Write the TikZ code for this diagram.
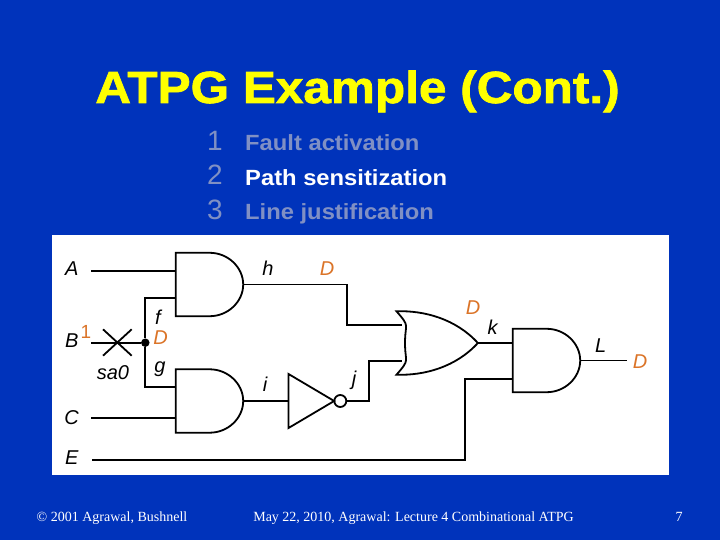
\documentclass[tikz,border=0pt]{standalone}
\usepackage{fontspec}
\setmainfont{Liberation Sans}
\newfontfamily\footfont{Liberation Serif}
\newfontfamily\headfont[BoldFeatures={FakeBold=1.6,FakeStretch=1.1}]{Liberation Sans}
\newfontfamily\stepfont[BoldFeatures={FakeStretch=1.08}]{Liberation Sans}
\definecolor{slide}{HTML}{0033BB}
\definecolor{heading}{HTML}{FFFF00}
\definecolor{dimmed}{HTML}{8090C4}
\definecolor{logicval}{HTML}{DB7428}
\tikzset{heading/.style={text=heading,font=\headfont\fontsize{45}{45}\selectfont\bfseries,inner sep=0pt,anchor=base}}
\tikzset{stepnum/.style={text=dimmed,font=\fontsize{28}{28}\selectfont,inner sep=0pt,anchor=base west}}
\tikzset{steptext/.style={text=dimmed,font=\stepfont\fontsize{22}{22}\selectfont\bfseries,inner sep=0pt,anchor=base west}}
\tikzset{footer/.style={text=white,font=\footfont\fontsize{14}{14}\selectfont,inner sep=0pt,anchor=base}}
\tikzset{sig/.style={black,font=\fontsize{20}{20}\selectfont\itshape,inner sep=0pt,anchor=base}}
\tikzset{val/.style={text=logicval,font=\fontsize{20}{20}\selectfont\itshape,inner sep=0pt,anchor=base}}
\tikzset{wire/.style={black,line width=1.8pt}}
\tikzset{gatebox/.style={rectangle,inner sep=0pt,minimum width=67pt,minimum height=63pt}}
\newcommand{\andshape}[1]{\draw[wire] (#1.north west) -- ([xshift=34pt]#1.north west) .. controls ([xshift=52pt]#1.north west) and ([yshift=17.3pt]#1.east) .. (#1.east) .. controls ([yshift=-17.3pt]#1.east) and ([xshift=52pt]#1.south west) .. ([xshift=34pt]#1.south west) -- (#1.south west) -- cycle;}
\begin{document}
\begin{tikzpicture}[x=1pt,y=-1pt]
                \useasboundingbox (0,0) rectangle (720,540);
                \fill[slide] (0,0) rectangle (720,540);
                \node[rectangle,fill=white,inner sep=0pt,minimum width=617pt,minimum height=240pt] (panel) at (360.5,355) {};

                \node[heading] (title) at (357.5,103) {ATPG Example (Cont.)};
                \node[stepnum] (n1) at (207,151) {1};
                \node[stepnum] (n2) at (207,185) {2};
                \node[stepnum] (n3) at (207,219) {3};
                \node[steptext] (s1) at (245,151) {Fault activation};
                \node[steptext,text=white] (s2) at (245,185.5) {Path sensitization};
                \node[steptext] (s3) at (245,220) {Line justification};

                \node[gatebox] (andh) at (209.5,284.5) {};
                \node[gatebox] (andi) at (209.5,401) {};
                \node[gatebox] (andl) at (546.5,360.5) {};
                \node[gatebox,minimum width=81pt] (orgate) at (437.2,343) {};
                \node[rectangle,inner sep=0pt,minimum width=45.3pt,minimum height=53.7pt] (inv) at (311.3,401) {};
                \node[circle,draw=black,line width=1.8pt,fill=white,inner sep=0pt,minimum size=12pt] (bubble) at (340.3,401) {};
                \node[circle,fill=black,inner sep=0pt,minimum size=8.5pt] (dot) at (145.3,342.7) {};

                \coordinate (ain) at (91,270.7);
                \coordinate (bin) at (91,342.7);
                \coordinate (cin) at (91,417.7);
                \coordinate (ein) at (92,459.7);
                \coordinate (fb) at (145.3,298.3);
                \coordinate (gb) at (145.3,387);
                \coordinate (nh) at (346.7,324.7);
                \coordinate (nj) at (369.3,360.7);
                \coordinate (ne) at (465,379);
                \coordinate (orin1) at (402,324.7);
                \coordinate (orin2) at (402,360.7);
                \coordinate (lout) at (626.7,360.5);
                \coordinate (xa) at (103,329.3);
                \coordinate (xb) at (131.7,355.7);
                \coordinate (xc) at (131.7,329.3);
                \coordinate (xd) at (103,355.7);

                \andshape{andh}
                \andshape{andi}
                \andshape{andl}
                \draw[wire,fill=white] (orgate.north west) .. controls +(28,-1) and +(-22,-24) .. (orgate.east) .. controls +(-22,24) and +(28,1) .. (orgate.south west) .. controls +(14,-16) and +(0,20) .. ([xshift=8.5pt]orgate.west) .. controls +(0,-20) and +(14,16) .. (orgate.north west) -- cycle;
                \draw[wire] (inv.north west) -- (inv.east) -- (inv.south west) -- cycle;

                \draw[wire] (ain) -- (ain -| andh.west);
                \draw[wire] (bin) -- (dot);
                \draw[wire] (cin) -- (cin -| andi.west);
                \draw[wire] (dot) -- (fb) -- (fb -| andh.west);
                \draw[wire] (dot) -- (gb) -- (gb -| andi.west);
                \draw[wire] (andh.east) -| (nh) -- (orin1);
                \draw[wire] (andi.east) -- (inv.west);
                \draw[wire] (bubble.east) -| (nj) -- (orin2);
                \draw[wire] (orgate.east) -- (orgate.east -| andl.west);
                \draw[wire] (ein) -| (ne) -- (ne -| andl.west);
                \draw[wire] (andl.east) -- (lout);
                \draw[wire] (xa) -- (xb);
                \draw[wire] (xc) -- (xd);

                \node[sig] (a) at (71.7,275) {A};
                \node[sig] (b) at (71.7,347) {B};
                \node[sig] (c) at (71.7,424) {C};
                \node[sig] (e) at (71.7,464) {E};
                \node[sig] (f) at (158,324) {f};
                \node[sig] (g) at (160,372) {g};
                \node[sig] (h) at (268,275) {h};
                \node[sig] (i) at (265,391) {i};
                \node[sig] (j) at (354,385) {j};
                \node[sig] (k) at (492.7,334) {k};
                \node[sig] (l) at (600.7,352) {L};
                \node[sig] (sa) at (113,379) {sa0};
                \node[val,font=\fontsize{19}{19}\selectfont] (one) at (86,338) {1};
                \node[val] (df) at (160.7,344) {D};
                \node[val] (dh) at (327,275) {D};
                \node[val] (dk) at (473,314) {D};
                \node[val] (dl) at (640,368) {D};

                \node[footer] (f1) at (112,521) {© 2001 Agrawal, Bushnell};
                \node[footer] (f2) at (413.5,521) {May 22, 2010, Agrawal: Lecture 4 Combinational ATPG};
                \node[footer] (f3) at (679,521) {7};
\end{tikzpicture}
\end{document}
